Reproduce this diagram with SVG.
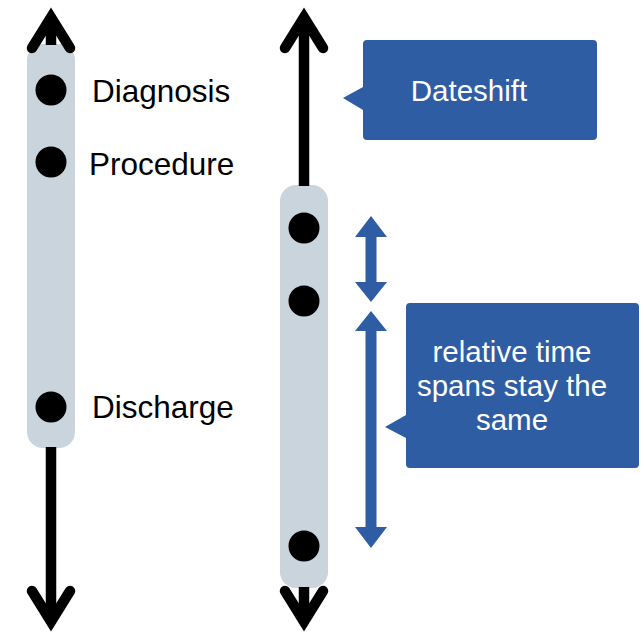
<svg xmlns="http://www.w3.org/2000/svg" width="641" height="634" viewBox="0 0 641 634">
<style>
.bar{fill:#C9D4DC}
.axis{fill:none;stroke:#000;stroke-width:10.5;stroke-linecap:round;stroke-linejoin:miter}
.stem{fill:none;stroke:#000;stroke-width:10.5}
.dot{fill:#000}
.lbl{font-family:"Liberation Sans",Arial,sans-serif;font-size:31.5px;fill:#000}
.call{fill:#2E5DA3}
.ctxt{font-family:"Liberation Sans",Arial,sans-serif;font-size:29.5px;fill:#fff;text-anchor:middle}
.span{fill:#2E5DA3}
</style>
<rect class="bar" x="27" y="44" width="48" height="404" rx="16"/>
<rect class="bar" x="280" y="185" width="48" height="403" rx="16"/>
<g id="connectors">
<line class="stem" x1="51" y1="20" x2="51" y2="45"/>
<path class="axis" d="M32,48 L51,17.5 L70,48"/>
<line class="stem" x1="51" y1="447" x2="51" y2="620"/>
<path class="axis" d="M32,591 L51,621.5 L70,591"/>
<line class="stem" x1="304" y1="20" x2="304" y2="186"/>
<path class="axis" d="M285,48 L304,17.5 L323,48"/>
<line class="stem" x1="304" y1="587" x2="304" y2="620"/>
<path class="axis" d="M285,591 L304,621.5 L323,591"/>
<polygon class="span" points="371,216 387,237 376.5,237 376.5,282 387,282 371,302 355,282 365.5,282 365.5,237 355,237"/>
<polygon class="span" points="371,311 387,331 376.5,331 376.5,527 387,527 371,548 355,527 365.5,527 365.5,331 355,331"/>
</g>
<g id="diagnosis"><circle class="dot" cx="51" cy="90" r="15.5"/><text class="lbl" x="92" y="102">Diagnosis</text></g>
<g id="procedure"><circle class="dot" cx="51" cy="162" r="15.5"/><text class="lbl" x="89" y="175">Procedure</text></g>
<g id="discharge"><circle class="dot" cx="51" cy="407" r="15.5"/><text class="lbl" x="92" y="418">Discharge</text></g>
<g id="shifted1"><circle class="dot" cx="304" cy="228" r="15.5"/></g>
<g id="shifted2"><circle class="dot" cx="304" cy="301" r="15.5"/></g>
<g id="shifted3"><circle class="dot" cx="304" cy="546" r="15.5"/></g>
<g id="dateshift">
<path class="call" d="M367,40 H593 Q597,40 597,44 V136 Q597,140 593,140 H367 Q363,140 363,136 V110 L343,98 L363,87 V44 Q363,40 367,40 Z"/>
<text class="ctxt" x="469" y="101">Dateshift</text>
</g>
<g id="relative">
<path class="call" d="M410,303 H635 Q639,303 639,307 V464 Q639,468 635,468 H410 Q406,468 406,464 V438 L385,427 L406,415 V307 Q406,303 410,303 Z"/>
<text class="ctxt" x="512" y="362">relative time</text>
<text class="ctxt" x="512" y="396">spans stay the</text>
<text class="ctxt" x="512" y="430">same</text>
</g>
</svg>
